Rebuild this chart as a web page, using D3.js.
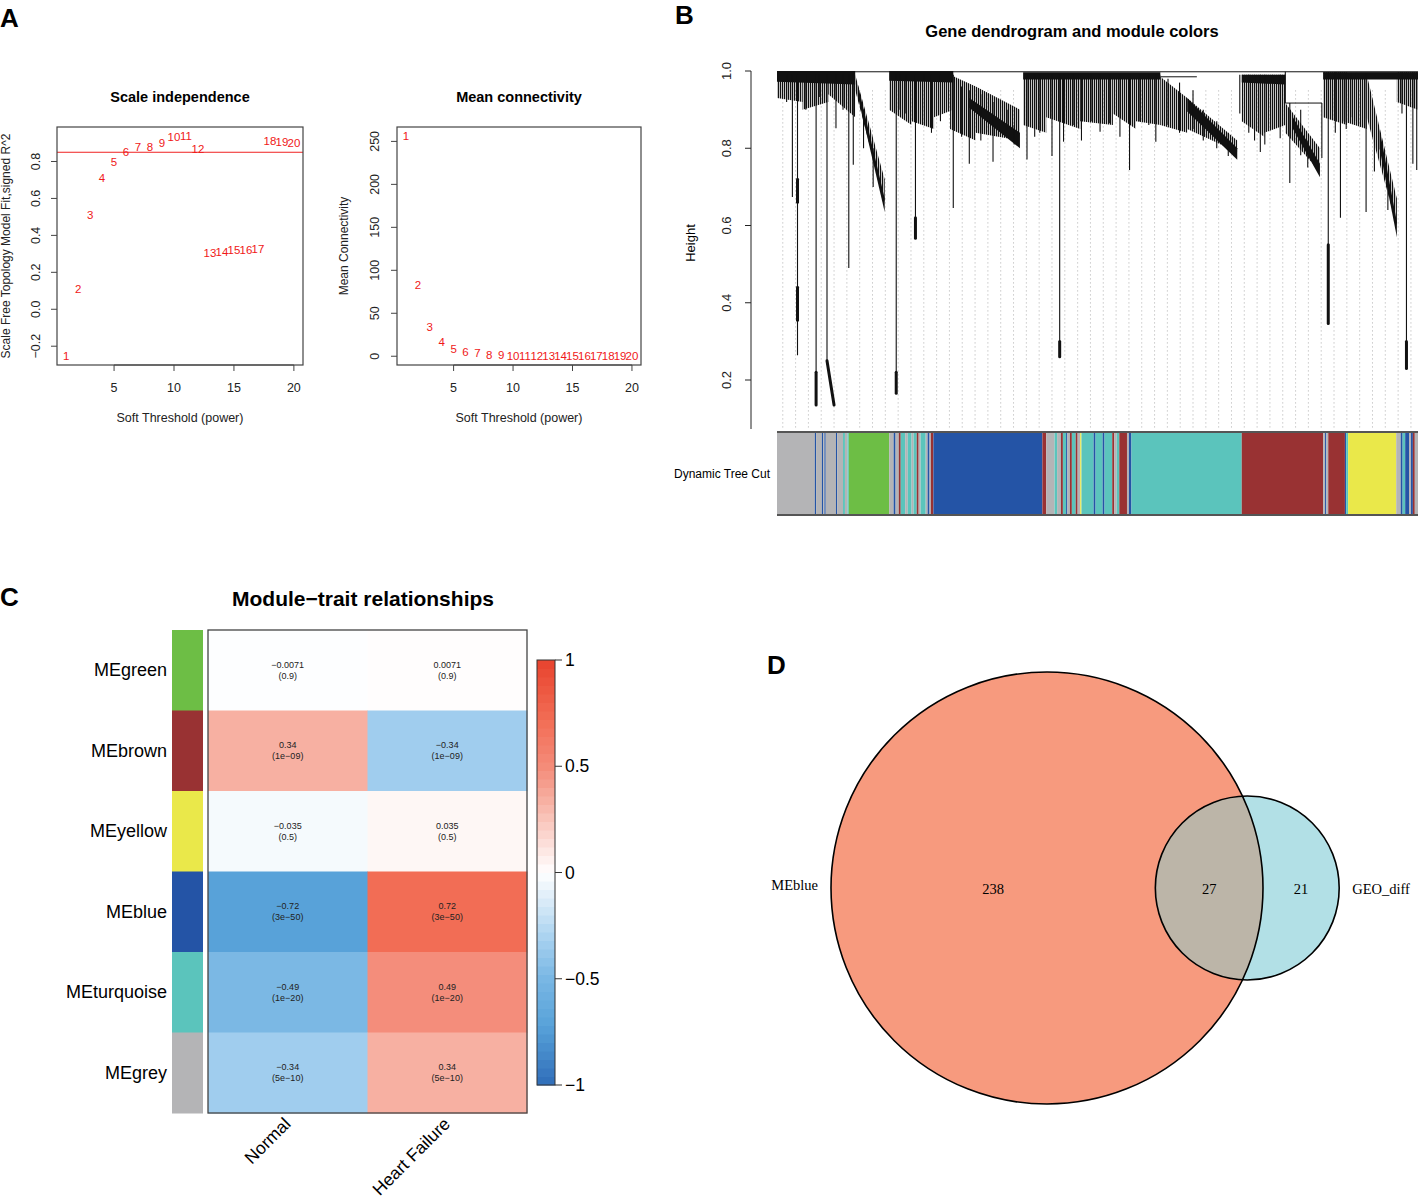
<!DOCTYPE html>
<html><head><meta charset="utf-8">
<script src="https://cdn.jsdelivr.net/npm/d3@7/dist/d3.min.js"></script>
<style>body{margin:0;background:#fff} svg{display:block}</style>
</head><body><svg id="c" width="1418" height="1198"></svg>
<script>
// ---------------- DATA ----------------
const powers = [1,2,3,4,5,6,7,8,9,10,11,12,13,14,15,16,17,18,19,20];
const sftSignedR2 = [-0.254,0.111,0.509,0.708,0.795,0.849,0.876,0.880,0.900,0.933,0.939,0.867,0.303,0.312,0.320,0.320,0.324,0.912,0.908,0.899];
const meanConnectivity = [256.5,83.3,34.6,16.4,8.9,5.4,3.5,1.5,1.0,0.7,0.5,0.4,0.3,0.25,0.2,0.15,0.12,0.1,0.08,0.06];
const r2Cutoff = 0.85;
const powerTicks = [5,10,15,20];
const r2Ticks = [-0.2,0.0,0.2,0.4,0.6,0.8];
const kTicks = [0,50,100,150,200,250];

// dendrogram (leaf order 0-100, heights 0-1)
const heightTicks = [0.2,0.4,0.6,0.8,1.0];
// dense leaf regions [p0, p1, top0, top1, low0, low1]
const dendroLeafBlocks = [
  [0,4,0.99,0.99,0.93,0.92],[4,8,0.99,0.99,0.90,0.92],[8,12.2,0.99,0.99,0.94,0.88],
  [12.2,16.8,0.99,0.72,0.95,0.66],
  [17.5,21,0.995,0.995,0.90,0.86],[21,24.5,0.995,0.995,0.87,0.85],[24.5,27.5,0.995,0.995,0.88,0.90],
  [27,31,0.99,0.96,0.85,0.82],[31,37.9,0.96,0.90,0.84,0.82],
  [38.4,42,0.995,0.995,0.86,0.84],[42,47.3,0.995,0.995,0.88,0.85],
  [47.3,52.4,0.994,0.994,0.87,0.86],[52.4,56,0.99,0.99,0.89,0.85],[56,59.8,0.99,0.99,0.87,0.86],
  [59.8,64,0.985,0.93,0.86,0.84],[64,71.8,0.93,0.82,0.85,0.79],
  [72.5,76,0.99,0.99,0.87,0.83],[76,79.3,0.99,0.99,0.84,0.86],
  [79.3,84.7,0.917,0.80,0.84,0.74],[85.2,88.9,0.997,0.997,0.88,0.86],[88.3,92.0,0.995,0.995,0.87,0.85],
  [92.0,96.7,0.99,0.67,0.88,0.60],[96.7,100,0.997,0.997,0.92,0.90]
];
// solid merge bands [p0, p1, upper0, upper1, lower0, lower1]
const dendroBands = [
  [0,12.2,1.0,1.0,0.972,0.965],[17.5,27.5,1.0,1.0,0.975,0.97],[38.4,59.8,0.997,0.997,0.978,0.978],
  [72.5,79.3,0.99,0.99,0.97,0.965],[85.2,100,0.997,0.997,0.978,0.978],
  [12.6,16.8,0.965,0.67,0.935,0.635],[30.0,37.9,0.93,0.84,0.905,0.80],[64.0,71.8,0.93,0.80,0.895,0.77],
  [80.5,84.7,0.88,0.76,0.85,0.725],[94.0,96.7,0.85,0.61,0.80,0.57]
];
// [p0, p1, height]
const dendroLinks = [[0,100,0.998],[79.3,85.0,0.917],[59.8,65.5,0.985],[85.2,100,0.995]];
// [p, hTop, hBottom]
const dendroDrops = [
  [1.5,0.99,0.92],[2.4,0.99,0.674],[3.2,0.99,0.264],[6.1,0.99,0.135],[6.6,0.99,0.933],[7.8,0.99,0.25],
  [9.2,0.99,0.852],[10.3,0.99,0.9],[11.2,0.99,0.49],[11.9,0.99,0.757],[18.6,0.99,0.166],[20.1,0.99,0.89],
  [21.6,0.99,0.567],[24.1,0.99,0.84],[25.5,0.99,0.87],[27.5,0.99,0.645],[30.0,0.95,0.76],[31.8,0.94,0.82],
  [33.7,0.92,0.765],[35.9,0.9,0.847],[39.0,0.99,0.771],[41.0,0.99,0.84],[42.9,0.99,0.78],[44.1,0.99,0.26],
  [44.7,0.99,0.817],[46.2,0.99,0.86],[47.5,0.99,0.82],[49.0,0.99,0.87],[50.4,0.99,0.843],[51.9,0.99,0.865],
  [55.0,0.99,0.744],[56.6,0.99,0.869],[58.0,0.99,0.86],[59.1,0.99,0.817],[61.0,0.98,0.86],[62.8,0.97,0.84],
  [64.9,0.95,0.85],[72.2,0.99,0.89],[73.6,0.99,0.84],[75.4,0.99,0.79],[76.1,0.99,0.81],[77.3,0.99,0.85],
  [78.5,0.99,0.826],[79.3,0.998,0.917],[80.0,0.917,0.71],[81.7,0.9,0.782],[85.0,0.917,0.775],[86.0,0.997,0.346],
  [87.1,0.997,0.84],[87.9,0.997,0.62],[89.5,0.995,0.88],[90.4,0.995,0.87],[91.9,0.995,0.635],[97.5,0.997,0.89],
  [98.2,0.997,0.23],[99.2,0.997,0.76],[99.8,0.997,0.744],[4.5,0.99,0.9],[13.5,0.9,0.8],[15.0,0.8,0.70],
  [19.2,0.99,0.9],[23.0,0.99,0.86],[28.8,0.96,0.83],[37.0,0.86,0.81],[40.2,0.99,0.83],[53.5,0.99,0.83],
  [66.5,0.9,0.82],[68.6,0.87,0.8],[70.4,0.84,0.78],[74.5,0.99,0.82],[82.8,0.82,0.75],[88.8,0.995,0.85],[93.2,0.82,0.74],[95.3,0.72,0.64]
];
// thick segments [p0, h0, p1, h1]
const dendroThick = [[7.8,0.25,8.9,0.135],[3.2,0.44,3.2,0.355],[3.2,0.72,3.2,0.66],[86.0,0.55,86.0,0.346],
  [98.2,0.30,98.2,0.23],[6.1,0.22,6.1,0.135],[18.6,0.22,18.6,0.166],[44.1,0.3,44.1,0.26],[21.6,0.62,21.6,0.567]];
// module colour bar segments [p0, p1, module]
const moduleSegments = [
  [0,5.9,"grey"],[5.9,6.1,"blue"],[6.1,7.0,"grey"],[7.0,7.2,"blue"],[7.2,7.4,"grey"],[7.4,7.6,"blue"],
  [7.6,9.2,"grey"],[9.2,9.4,"blue"],[9.4,10.3,"grey"],[10.3,10.6,"turquoise"],[10.6,11.0,"grey"],[11.0,11.2,"turquoise"],
  [11.2,17.5,"green"],[17.5,18.2,"grey"],[18.2,18.5,"blue"],[18.5,19.0,"grey"],[19.0,19.3,"brown"],
  [19.3,20.0,"turquoise"],[20.0,20.4,"grey"],[20.4,21.0,"turquoise"],[21.0,21.3,"grey"],[21.3,21.8,"turquoise"],
  [21.8,22.1,"brown"],[22.1,22.4,"grey"],[22.4,23.2,"turquoise"],[23.2,23.5,"grey"],[23.5,23.8,"blue"],
  [23.8,24.0,"grey"],[24.0,24.4,"brown"],[24.4,41.4,"blue"],[41.4,42.0,"brown"],[42.0,43.3,"grey"],
  [43.3,43.7,"turquoise"],[43.7,44.3,"grey"],[44.3,44.6,"brown"],[44.6,45.1,"turquoise"],[45.1,45.3,"blue"],
  [45.3,45.7,"grey"],[45.7,46.0,"brown"],[46.0,46.6,"turquoise"],[46.6,46.9,"brown"],[46.9,47.3,"grey"],
  [47.3,47.5,"yellow"],[47.5,49.4,"turquoise"],[49.4,49.7,"blue"],[49.7,50.8,"turquoise"],[50.8,51.1,"blue"],
  [51.1,52.3,"turquoise"],[52.3,52.6,"brown"],[52.6,53.0,"grey"],[53.0,53.4,"turquoise"],[53.4,54.6,"brown"],
  [54.6,54.9,"grey"],[54.9,55.3,"blue"],[55.3,72.5,"turquoise"],[72.5,85.2,"brown"],[85.2,85.5,"grey"],
  [85.5,85.7,"blue"],[85.7,86.0,"grey"],[86.0,88.6,"brown"],[88.6,88.8,"blue"],[88.8,89.1,"turquoise"],
  [89.1,96.6,"yellow"],[96.6,97.3,"grey"],[97.3,97.6,"blue"],[97.6,98.0,"turquoise"],[98.0,98.6,"blue"],
  [98.6,98.9,"grey"],[98.9,99.2,"blue"],[99.2,99.5,"brown"],[99.5,100,"grey"]
];
const moduleColors = {grey:"#B4B4B6",green:"#6DBE45",blue:"#2454A6",turquoise:"#5BC4BC",brown:"#993233",yellow:"#EAE84A"};

// module-trait heatmap
const modules = ["MEgreen","MEbrown","MEyellow","MEblue","MEturquoise","MEgrey"];
const moduleSwatch = ["green","brown","yellow","blue","turquoise","grey"];
const traits = ["Normal","Heart Failure"];
const corNormal = [-0.0071,0.34,-0.035,-0.72,-0.49,-0.34];
const corHF = [0.0071,-0.34,0.035,0.72,0.49,0.34];
const pValues = ["0.9","1e−09","0.5","3e−50","1e−20","5e−10"];
const legendTicks = [1,0.5,0,-0.5,-1];

// venn
const vennSets = ["MEblue","GEO_diff"];
const vennOnly = [238,21];
const vennBoth = 27;

// ---------------- DRAW ----------------
const SANS = '"Liberation Sans", Arial, Helvetica, sans-serif';
const SERIF = '"Liberation Serif", "Times New Roman", serif';
const svg = d3.select("#c");
const fmtMinus = s => String(s).replace("-", "−");

const defs = svg.append("defs");
const pat = defs.append("pattern").attr("id","leaves").attr("patternUnits","userSpaceOnUse")
  .attr("width",2.0).attr("height",10);
pat.append("rect").attr("x",0).attr("y",0).attr("width",1.25).attr("height",10).attr("fill","#111");

// panel letters
[["A",0,27],["B",675,24],["C",0,606],["D",767,674]].forEach(([t,x,y]) =>
  svg.append("text").attr("x",x).attr("y",y).attr("font-family",SANS).attr("font-weight","bold")
    .attr("font-size",26).text(t));

// ---- Panel A ----
function scatter(box, yVals, yTicks, yFmt, title, ylab, ylabX, tickLabX, cutoff){
  const g = svg.append("g");
  const ext = d3.extent(powers), ye = d3.extent(yVals);
  const xp = (ext[1]-ext[0])*0.04, yp = (ye[1]-ye[0])*0.04;
  const x = d3.scaleLinear([ext[0]-xp, ext[1]+xp],[box.x0, box.x1]);
  const y = d3.scaleLinear([ye[0]-yp, ye[1]+yp],[box.y1, box.y0]);
  if (cutoff !== null) g.append("line").attr("x1",box.x0).attr("x2",box.x1).attr("y1",y(cutoff)).attr("y2",y(cutoff))
      .attr("stroke","#F02020").attr("stroke-width",1);
  g.selectAll("text.pt").data(powers).join("text").attr("class","pt")
    .attr("x",d=>x(d)).attr("y",(d,i)=>y(yVals[i])).attr("text-anchor","middle").attr("dominant-baseline","central")
    .attr("font-family",SANS).attr("font-size",11.5).attr("fill","#F01818").text(d=>d);
  g.append("rect").attr("x",box.x0).attr("y",box.y0).attr("width",box.x1-box.x0).attr("height",box.y1-box.y0)
    .attr("fill","none").attr("stroke","#444").attr("stroke-width",1.2);
  powerTicks.forEach(t=>{
    g.append("line").attr("x1",x(t)).attr("x2",x(t)).attr("y1",box.y1).attr("y2",box.y1+6).attr("stroke","#444");
    g.append("text").attr("x",x(t)).attr("y",box.y1+23).attr("text-anchor","middle").attr("dominant-baseline","central")
      .attr("font-family",SANS).attr("font-size",12.5).attr("fill","#222").text(t);
  });
  g.append("line").attr("x1",x(powerTicks[0])).attr("x2",x(powerTicks[powerTicks.length-1])).attr("y1",box.y1).attr("y2",box.y1).attr("stroke","#444");
  yTicks.forEach(t=>{
    g.append("line").attr("x1",box.x0-6).attr("x2",box.x0).attr("y1",y(t)).attr("y2",y(t)).attr("stroke","#444");
    g.append("text").attr("transform",`translate(${tickLabX},${y(t)}) rotate(-90)`).attr("text-anchor","middle")
      .attr("dominant-baseline","central").attr("font-family",SANS).attr("font-size",12.5).attr("fill","#222").text(yFmt(t));
  });
  g.append("text").attr("x",(box.x0+box.x1)/2).attr("y",97).attr("text-anchor","middle").attr("dominant-baseline","central")
    .attr("font-family",SANS).attr("font-weight","bold").attr("font-size",14.5).text(title);
  g.append("text").attr("x",(box.x0+box.x1)/2).attr("y",418).attr("text-anchor","middle").attr("dominant-baseline","central")
    .attr("font-family",SANS).attr("font-size",12.5).attr("fill","#222").text("Soft Threshold (power)");
  g.append("text").attr("transform",`translate(${ylabX},${(box.y0+box.y1)/2}) rotate(-90)`).attr("text-anchor","middle")
    .attr("dominant-baseline","central").attr("font-family",SANS).attr("font-size",12).attr("fill","#222").text(ylab);
}
scatter({x0:57,x1:303,y0:127,y1:365}, sftSignedR2, r2Ticks, t=>fmtMinus(t.toFixed(1)),
  "Scale independence","Scale Free Topology Model Fit,signed R^2", 6, 36, r2Cutoff);
scatter({x0:397,x1:641,y0:127,y1:365}, meanConnectivity, kTicks, t=>String(t),
  "Mean connectivity","Mean Connectivity", 344, 375, null);

// ---- Panel B ----
(function(){
  const g = svg.append("g");
  const px = d3.scaleLinear([0,100],[777,1418]);
  const hy = d3.scaleLinear([0.2,1.0],[380,71]);
  g.append("text").attr("x",1072).attr("y",31).attr("text-anchor","middle").attr("dominant-baseline","central")
    .attr("font-family",SANS).attr("font-weight","bold").attr("font-size",16.5).text("Gene dendrogram and module colors");
  const guides = g.append("g");
  for (let p = 0.9; p < 100; p += 2.0) {
    guides.append("line").attr("x1",px(p)).attr("x2",px(p)).attr("y1",hy(0.95)).attr("y2",428)
      .attr("stroke","#aaa").attr("stroke-width",0.8).attr("stroke-dasharray","1.2,2.8");
  }
  g.append("line").attr("x1",751).attr("x2",751).attr("y1",hy(1.0)).attr("y2",429).attr("stroke","#222");
  heightTicks.forEach(t=>{
    g.append("line").attr("x1",745).attr("x2",751).attr("y1",hy(t)).attr("y2",hy(t)).attr("stroke","#222");
    g.append("text").attr("transform",`translate(726,${hy(t)}) rotate(-90)`).attr("text-anchor","middle")
      .attr("dominant-baseline","central").attr("font-family",SANS).attr("font-size",13).attr("fill","#222").text(t.toFixed(1));
  });
  g.append("text").attr("transform",`translate(690,243) rotate(-90)`).attr("text-anchor","middle")
    .attr("dominant-baseline","central").attr("font-family",SANS).attr("font-size",13).text("Height");
  const ink = "#111";
  const poly = ([a,b,u0,u1,l0,l1]) => `M${px(a)},${hy(u0)}L${px(b)},${hy(u1)}L${px(b)},${hy(l1)}L${px(a)},${hy(l0)}Z`;
  dendroLeafBlocks.forEach(d=> g.append("path").attr("d",poly(d)).attr("fill","url(#leaves)"));
  dendroLinks.forEach(([a,b,h])=> g.append("line").attr("x1",px(a)).attr("x2",px(b)).attr("y1",hy(h)).attr("y2",hy(h))
    .attr("stroke",ink).attr("stroke-width",1));
  dendroBands.forEach(d=> g.append("path").attr("d",poly(d)).attr("fill",ink));
  dendroDrops.forEach(([p,t,b])=> g.append("line").attr("x1",px(p)).attr("x2",px(p)).attr("y1",hy(t)).attr("y2",hy(b))
    .attr("stroke",ink).attr("stroke-width",1.1));
  dendroThick.forEach(([a,h0,b,h1])=> g.append("line").attr("x1",px(a)).attr("x2",px(b)).attr("y1",hy(h0)).attr("y2",hy(h1))
    .attr("stroke",ink).attr("stroke-width",3).attr("stroke-linecap","round"));
  g.selectAll("rect.seg").data(moduleSegments).join("rect").attr("class","seg")
    .attr("x",d=>px(d[0])).attr("width",d=>Math.max(0.6,px(d[1])-px(d[0]))).attr("y",432).attr("height",83)
    .attr("fill",d=>moduleColors[d[2]]);
  [432,515].forEach(yy=> g.append("line").attr("x1",777).attr("x2",1418).attr("y1",yy).attr("y2",yy)
    .attr("stroke","#555").attr("stroke-width",2));
  g.append("text").attr("x",770).attr("y",474).attr("text-anchor","end").attr("dominant-baseline","central")
    .attr("font-family",SANS).attr("font-size",12).text("Dynamic Tree Cut");
})();

// ---- Panel C ----
(function(){
  const g = svg.append("g");
  const color = d3.scaleLinear([-1,-0.72,-0.49,-0.34,0,0.34,0.49,0.72,1],
    ["#2F6DB9","#58A2D9","#7BB8E4","#A0CDEE","#FFFFFF","#F7B0A2","#F48D7B","#F26D55","#E8432E"]);
  const y = d3.scaleBand(modules,[630,1113]);
  const x = d3.scaleBand(traits,[208,527]);
  g.append("text").attr("x",363).attr("y",598).attr("text-anchor","middle").attr("dominant-baseline","central")
    .attr("font-family",SANS).attr("font-weight","bold").attr("font-size",21).text("Module−trait relationships");
  modules.forEach((m,i)=>{
    g.append("rect").attr("x",172).attr("y",y(m)).attr("width",31).attr("height",y.bandwidth()+0.5)
      .attr("fill",moduleColors[moduleSwatch[i]]);
    g.append("text").attr("x",167).attr("y",y(m)+y.bandwidth()/2).attr("text-anchor","end").attr("dominant-baseline","central")
      .attr("font-family",SANS).attr("font-size",18).text(m);
    [corNormal[i],corHF[i]].forEach((v,j)=>{
      const t = traits[j];
      g.append("rect").attr("x",x(t)).attr("y",y(m)).attr("width",x.bandwidth()+0.5).attr("height",y.bandwidth()+0.5).attr("fill",color(v));
      const cx = x(t)+x.bandwidth()/2, cy = y(m)+y.bandwidth()/2;
      g.append("text").attr("x",cx).attr("y",cy-5.5).attr("text-anchor","middle").attr("dominant-baseline","central")
        .attr("font-family",SANS).attr("font-size",9).attr("fill","#222").text(fmtMinus(v));
      g.append("text").attr("x",cx).attr("y",cy+5.5).attr("text-anchor","middle").attr("dominant-baseline","central")
        .attr("font-family",SANS).attr("font-size",9).attr("fill","#222").text(`(${pValues[i]})`);
    });
  });
  g.append("rect").attr("x",208).attr("y",630).attr("width",319).attr("height",483).attr("fill","none")
    .attr("stroke","#444").attr("stroke-width",1.3);
  traits.forEach(t=>{
    g.append("text").attr("transform",`translate(${x(t)+x.bandwidth()/2+4},${1125}) rotate(-45)`)
      .attr("text-anchor","end").attr("font-family",SANS).attr("font-size",17.5).text(t);
  });
  const ly = d3.scaleLinear([-1,1],[1085,660]);
  const steps = d3.range(-1,1,0.04);
  g.selectAll("rect.lg").data(steps).join("rect").attr("class","lg").attr("x",537).attr("width",18)
    .attr("y",d=>ly(d+0.04)).attr("height",d=>ly(d)-ly(d+0.04)+0.5).attr("fill",d=>color(d+0.02));
  g.append("rect").attr("x",537).attr("y",660).attr("width",18).attr("height",425).attr("fill","none").attr("stroke","#333");
  legendTicks.forEach(t=>{
    g.append("line").attr("x1",555).attr("x2",562).attr("y1",ly(t)).attr("y2",ly(t)).attr("stroke","#333");
    g.append("text").attr("x",565).attr("y",ly(t)).attr("dominant-baseline","central").attr("font-family",SANS)
      .attr("font-size",17.5).text(fmtMinus(t));
  });
})();

// ---- Panel D ----
(function(){
  const g = svg.append("g");
  const total = [vennOnly[0]+vennBoth, vennOnly[1]+vennBoth];
  const k = 216/Math.sqrt(total[0]);
  const r1 = k*Math.sqrt(total[0]), r2 = k*Math.sqrt(total[1]);
  const lens = d => {
    const d1 = (d*d + r1*r1 - r2*r2)/(2*d), d2 = d - d1;
    return r1*r1*Math.acos(d1/r1) - d1*Math.sqrt(r1*r1-d1*d1) + r2*r2*Math.acos(d2/r2) - d2*Math.sqrt(r2*r2-d2*d2);
  };
  const target = Math.PI*k*k*vennBoth;
  let lo = r1-r2+0.01, hi = r1+r2-0.01;
  for (let i=0;i<60;i++){ const m=(lo+hi)/2; if (lens(m)>target) lo=m; else hi=m; }
  const dist = (lo+hi)/2;
  const cx1 = 1047, cy = 888, cx2 = cx1 + dist;
  g.append("circle").attr("cx",cx1).attr("cy",cy).attr("r",r1).attr("fill","#F79A7E");
  g.append("circle").attr("cx",cx2).attr("cy",cy).attr("r",r2).attr("fill","#B2E0E6");
  g.append("clipPath").attr("id","bigclip").append("circle").attr("cx",cx1).attr("cy",cy).attr("r",r1);
  g.append("circle").attr("cx",cx2).attr("cy",cy).attr("r",r2).attr("fill","#BCB5A8").attr("clip-path","url(#bigclip)");
  g.append("circle").attr("cx",cx1).attr("cy",cy).attr("r",r1).attr("fill","none").attr("stroke","#000").attr("stroke-width",1.6);
  g.append("circle").attr("cx",cx2).attr("cy",cy).attr("r",r2).attr("fill","none").attr("stroke","#000").attr("stroke-width",1.6);
  const L1 = cx1-r1, R1 = cx1+r1, L2 = cx2-r2, R2 = cx2+r2;
  const labs = [[(L1+L2)/2, vennOnly[0]],[(L2+R1)/2, vennBoth],[(R1+R2)/2, vennOnly[1]]];
  labs.forEach(([x,t])=> g.append("text").attr("x",x).attr("y",cy+1).attr("text-anchor","middle").attr("dominant-baseline","central")
    .attr("font-family",SERIF).attr("font-size",14.5).text(t));
  g.append("text").attr("x",L1-13).attr("y",cy-3).attr("text-anchor","end").attr("dominant-baseline","central")
    .attr("font-family",SERIF).attr("font-size",14.5).text(vennSets[0]);
  g.append("text").attr("x",R2+13).attr("y",cy+1).attr("text-anchor","start").attr("dominant-baseline","central")
    .attr("font-family",SERIF).attr("font-size",14.5).text(vennSets[1]);
})();
</script></body></html>
